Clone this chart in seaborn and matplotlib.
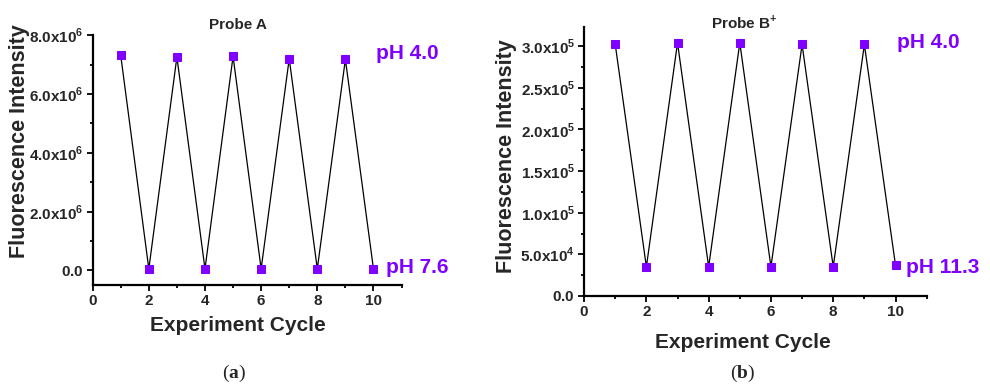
import numpy as np
import pandas as pd
import matplotlib
matplotlib.use('Agg')
import matplotlib.pyplot as plt
import seaborn as sns
from matplotlib.ticker import MultipleLocator, FuncFormatter

# 数据 data
cycle = [1, 2, 3, 4, 5, 6, 7, 8, 9, 10]
probe_a = [7.31e6, 0.05e6, 7.26e6, 0.05e6, 7.28e6, 0.05e6, 7.20e6, 0.05e6, 7.18e6, 0.05e6]
probe_b = [3.02e5, 0.35e5, 3.04e5, 0.35e5, 3.04e5, 0.35e5, 3.02e5, 0.35e5, 3.02e5, 0.37e5]

purple = '#8000FF'

sns.set_style('ticks')
plt.rcParams['font.family'] = ['Liberation Sans', 'DejaVu Sans']
plt.rcParams['font.weight'] = 'bold'
plt.rcParams['mathtext.fontset'] = 'custom'
plt.rcParams['mathtext.rm'] = 'Liberation Sans'
plt.rcParams['mathtext.bf'] = 'Liberation Sans:bold'
plt.rcParams['mathtext.sf'] = 'Liberation Serif:bold'


def sci_fmt(v, pos):
    if abs(v) < 1e-9:
        return r'$\mathbf{0.0}$'
    e = int(np.floor(np.log10(abs(v))))
    m = v / 10 ** e
    return r'$\mathbf{%.1fx10}^{\mathbf{%d}}$' % (m, e)


fig = plt.figure(figsize=(9.9, 3.91), dpi=100)
ax1 = fig.add_axes([0.0936, 0.271, 0.312, 0.639])
ax2 = fig.add_axes([0.590, 0.243, 0.346, 0.688])

df_a = pd.DataFrame({'cycle': cycle, 'intensity': probe_a})
df_b = pd.DataFrame({'cycle': cycle, 'intensity': probe_b})

for ax, df in [(ax1, df_a), (ax2, df_b)]:
    sns.lineplot(data=df, x='cycle', y='intensity', ax=ax, color='black', lw=0.9,
                 marker='s', markersize=6, markerfacecolor=purple,
                 markeredgecolor=purple, zorder=3)
    ax.set_xlim(0, 11)
    ax.xaxis.set_major_locator(MultipleLocator(2))
    ax.xaxis.set_minor_locator(MultipleLocator(1))
    ax.yaxis.set_major_formatter(FuncFormatter(sci_fmt))
    sns.despine(ax=ax)
    for s in ['left', 'bottom']:
        ax.spines[s].set_linewidth(1.6)
        ax.spines[s].set_color('black')
    ax.tick_params(which='major', direction='out', length=4.5, width=1.3,
                   labelsize=11, color='black', pad=2)
    ax.tick_params(which='minor', direction='out', length=2.5, width=1.3, color='black')
    for lab in ax.get_xticklabels():
        lab.set_fontweight('bold')
    ax.set_xlabel('Experiment Cycle', fontsize=15, fontweight='bold')
    ax.set_ylabel('Fluorescence Intensity', fontsize=15.5, fontweight='bold')

ax1.set_ylim(-0.5e6, 8.0e6)
ax1.yaxis.set_major_locator(MultipleLocator(2e6))
ax1.yaxis.set_minor_locator(MultipleLocator(1e6))
ax2.set_ylim(0, 3.23e5)
ax2.yaxis.set_major_locator(MultipleLocator(0.5e5))
ax2.yaxis.set_minor_locator(MultipleLocator(0.25e5))

ax1.yaxis.set_label_coords(-0.203, 0.576)
ax2.yaxis.set_label_coords(-0.195, 0.519)
ax1.xaxis.set_label_coords(0.47, -0.124)
ax2.xaxis.set_label_coords(0.464, -0.138)

# pH 标注
ax1.text(10.1, 7.38e6, 'pH 4.0', color=purple, fontsize=15, fontweight='bold',
         va='center', ha='left', clip_on=False)
ax1.text(10.43, 0.11e6, 'pH 7.6', color=purple, fontsize=15, fontweight='bold',
         va='center', ha='left', clip_on=False)
ax2.text(10.05, 3.04e5, 'pH 4.0', color=purple, fontsize=15, fontweight='bold',
         va='center', ha='left', clip_on=False)
ax2.text(10.34, 0.34e5, 'pH 11.3', color=purple, fontsize=15, fontweight='bold',
         va='center', ha='left', clip_on=False)

fig.text(0.240, 0.936, 'Probe A', fontsize=11, fontweight='bold', ha='center', va='center')
fig.text(0.752, 0.944, r'Probe B$^{\mathbf{+}}$', fontsize=11, fontweight='bold',
         ha='center', va='center')

fig.text(0.236, 0.046, r'($\mathsf{a}$)', fontsize=14, fontweight='normal',
         family='Liberation Serif', ha='center', va='center')
fig.text(0.750, 0.046, r'($\mathsf{b}$)', fontsize=14, fontweight='normal',
         family='Liberation Serif', ha='center', va='center')

plt.savefig('out.png', dpi=100)
